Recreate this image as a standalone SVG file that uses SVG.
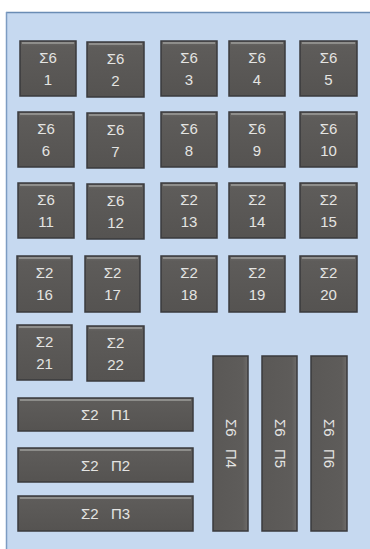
<svg xmlns="http://www.w3.org/2000/svg" width="370" height="549" viewBox="0 0 370 549">
<defs>
<linearGradient id="g" x1="0" y1="0" x2="0" y2="1">
<stop offset="0" stop-color="#6a6866"/>
<stop offset="0.1" stop-color="#5e5c5a"/>
<stop offset="1" stop-color="#555351"/>
</linearGradient>
<linearGradient id="gv" x1="0" y1="0" x2="1" y2="0">
<stop offset="0" stop-color="#5a5856"/>
<stop offset="0.85" stop-color="#5e5c5a"/>
<stop offset="1" stop-color="#6e6c6a"/>
</linearGradient>
</defs>
<style>
.b{fill:url(#g);stroke:#3a3a3c;stroke-width:1.5}
.v{fill:url(#gv);stroke:#3a3a3c;stroke-width:1.5}
.h{stroke:#9c9c9a;stroke-width:1.5}
text{font-family:"Liberation Sans",Arial,sans-serif;font-size:15px;fill:#e4e4e2;text-anchor:middle;white-space:pre}
</style>
<rect x="0" y="0" width="370" height="549" fill="#ffffff"/>
<rect x="6" y="12" width="366" height="540" fill="#c6d9f0"/>
<line x1="6" y1="12.5" x2="370" y2="12.5" stroke="#6a8cb4" stroke-width="1.5"/>
<line x1="6.5" y1="12" x2="6.5" y2="549" stroke="#7d9cc2" stroke-width="1.5"/>

<g id="n1"><rect class="b" x="20" y="41" width="56" height="55"/><line class="h" x1="22" y1="43" x2="74" y2="43"/><text x="48" y="63">Σ6</text><text x="48" y="85">1</text></g>
<g id="n2"><rect class="b" x="87" y="42" width="57" height="55"/><line class="h" x1="89" y1="44" x2="142" y2="44"/><text x="115.5" y="64">Σ6</text><text x="115.5" y="86">2</text></g>
<g id="n3"><rect class="b" x="161" y="41" width="56" height="55"/><line class="h" x1="163" y1="43" x2="215" y2="43"/><text x="189" y="63">Σ6</text><text x="189" y="85">3</text></g>
<g id="n4"><rect class="b" x="229" y="41" width="56" height="55"/><line class="h" x1="231" y1="43" x2="283" y2="43"/><text x="257" y="63">Σ6</text><text x="257" y="85">4</text></g>
<g id="n5"><rect class="b" x="300" y="41" width="57" height="55"/><line class="h" x1="302" y1="43" x2="355" y2="43"/><text x="328.5" y="63">Σ6</text><text x="328.5" y="85">5</text></g>

<g id="n6"><rect class="b" x="18" y="112" width="56" height="55"/><line class="h" x1="20" y1="114" x2="72" y2="114"/><text x="46" y="134">Σ6</text><text x="46" y="156">6</text></g>
<g id="n7"><rect class="b" x="87" y="113" width="57" height="55"/><line class="h" x1="89" y1="115" x2="142" y2="115"/><text x="115.5" y="135">Σ6</text><text x="115.5" y="157">7</text></g>
<g id="n8"><rect class="b" x="161" y="112" width="56" height="55"/><line class="h" x1="163" y1="114" x2="215" y2="114"/><text x="189" y="134">Σ6</text><text x="189" y="156">8</text></g>
<g id="n9"><rect class="b" x="229" y="112" width="56" height="55"/><line class="h" x1="231" y1="114" x2="283" y2="114"/><text x="257" y="134">Σ6</text><text x="257" y="156">9</text></g>
<g id="n10"><rect class="b" x="300" y="112" width="57" height="55"/><line class="h" x1="302" y1="114" x2="355" y2="114"/><text x="328.5" y="134">Σ6</text><text x="328.5" y="156">10</text></g>

<g id="n11"><rect class="b" x="18" y="183" width="56" height="55"/><line class="h" x1="20" y1="185" x2="72" y2="185"/><text x="46" y="205">Σ6</text><text x="46" y="227">11</text></g>
<g id="n12"><rect class="b" x="87" y="184" width="57" height="55"/><line class="h" x1="89" y1="186" x2="142" y2="186"/><text x="115.5" y="206">Σ6</text><text x="115.5" y="228">12</text></g>
<g id="n13"><rect class="b" x="161" y="183" width="56" height="55"/><line class="h" x1="163" y1="185" x2="215" y2="185"/><text x="189" y="205">Σ2</text><text x="189" y="227">13</text></g>
<g id="n14"><rect class="b" x="229" y="183" width="56" height="55"/><line class="h" x1="231" y1="185" x2="283" y2="185"/><text x="257" y="205">Σ2</text><text x="257" y="227">14</text></g>
<g id="n15"><rect class="b" x="300" y="183" width="57" height="55"/><line class="h" x1="302" y1="185" x2="355" y2="185"/><text x="328.5" y="205">Σ2</text><text x="328.5" y="227">15</text></g>

<g id="n16"><rect class="b" x="17" y="256" width="55" height="56"/><line class="h" x1="19" y1="258" x2="70" y2="258"/><text x="44.5" y="278">Σ2</text><text x="44.5" y="300">16</text></g>
<g id="n17"><rect class="b" x="85" y="256" width="55" height="56"/><line class="h" x1="87" y1="258" x2="138" y2="258"/><text x="112.5" y="278">Σ2</text><text x="112.5" y="300">17</text></g>
<g id="n18"><rect class="b" x="161" y="256" width="56" height="56"/><line class="h" x1="163" y1="258" x2="215" y2="258"/><text x="189" y="278">Σ2</text><text x="189" y="300">18</text></g>
<g id="n19"><rect class="b" x="229" y="256" width="56" height="56"/><line class="h" x1="231" y1="258" x2="283" y2="258"/><text x="257" y="278">Σ2</text><text x="257" y="300">19</text></g>
<g id="n20"><rect class="b" x="300" y="256" width="57" height="56"/><line class="h" x1="302" y1="258" x2="355" y2="258"/><text x="328.5" y="278">Σ2</text><text x="328.5" y="300">20</text></g>

<g id="n21"><rect class="b" x="17" y="325" width="55" height="55"/><line class="h" x1="19" y1="327" x2="70" y2="327"/><text x="44.5" y="347">Σ2</text><text x="44.5" y="369">21</text></g>
<g id="n22"><rect class="b" x="87" y="326" width="57" height="55"/><line class="h" x1="89" y1="328" x2="142" y2="328"/><text x="115.5" y="348">Σ2</text><text x="115.5" y="370">22</text></g>

<g id="p1"><rect class="b" x="18" y="398" width="175" height="33"/><line class="h" x1="20" y1="400" x2="191" y2="400"/><text x="105.5" y="420">Σ2   П1</text></g>
<g id="p2"><rect class="b" x="18" y="448" width="175" height="34"/><line class="h" x1="20" y1="450" x2="191" y2="450"/><text x="105.5" y="471">Σ2   П2</text></g>
<g id="p3"><rect class="b" x="18" y="496" width="175" height="35"/><line class="h" x1="20" y1="498" x2="191" y2="498"/><text x="105.5" y="519">Σ2   П3</text></g>

<g id="p4"><rect class="v" x="213" y="356" width="35" height="175"/><text transform="translate(230.5,443.5) rotate(90)" y="5">Σ6   П4</text></g>
<g id="p5"><rect class="v" x="262" y="356" width="35" height="175"/><text transform="translate(279.5,443.5) rotate(90)" y="5">Σ6   П5</text></g>
<g id="p6"><rect class="v" x="311" y="356" width="36" height="175"/><text transform="translate(329,443.5) rotate(90)" y="5">Σ6   П6</text></g>

<g id="connectors"></g>
</svg>
